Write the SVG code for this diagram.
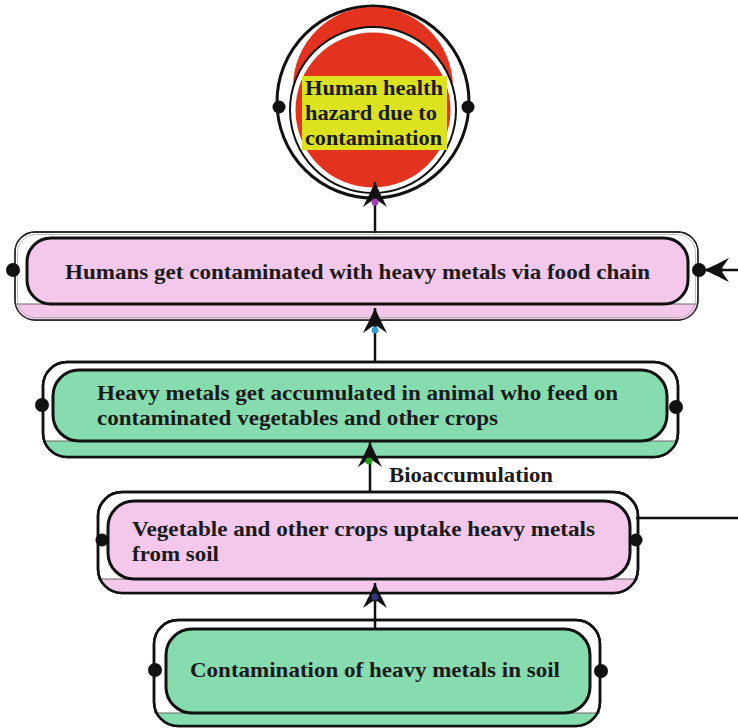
<svg xmlns="http://www.w3.org/2000/svg" width="738" height="728" viewBox="0 0 738 728">
<style>
.t{font-family:"Liberation Serif","Times New Roman",serif;font-weight:bold;font-size:22px;fill:#1a1a1a}
.outer{fill:#fff;stroke:#111;stroke-width:2.5}
.outerThin{fill:#fff;stroke:#222;stroke-width:1.3}
.inner{stroke:#111;stroke-width:3}
.pink{fill:#f3c8eb}
.green{fill:#87dcaf}
.dot{fill:#111}
.sl{stroke:#666;stroke-width:1;fill:none}
.con{stroke:#111;stroke-width:2.5;fill:none}
</style>
<defs>
<marker id="ah" markerUnits="userSpaceOnUse" viewBox="0 0 26 24" refX="25" refY="12" markerWidth="26" markerHeight="24" orient="auto">
<path d="M25,12 C18,9 12,6 0,0 L7,10 L5,12 L7,14 L0,24 C12,18 18,15 25,12 Z" fill="#111"/>
</marker>
<clipPath id="c2"><rect x="15" y="232" width="683" height="88" rx="20"/></clipPath>
<clipPath id="c3"><rect x="43" y="362" width="635" height="95" rx="24"/></clipPath>
<clipPath id="c4"><rect x="98" y="492" width="540" height="101" rx="24"/></clipPath>
<clipPath id="c5"><rect x="154" y="620" width="446" height="106" rx="24"/></clipPath>
</defs>

<g id="node-hazard">
<circle cx="373" cy="102" r="96" fill="#fff" stroke="#111" stroke-width="3"/>
<circle cx="373" cy="87" r="80" fill="#e3321e"/>
<circle cx="373" cy="110" r="83" fill="#fff" stroke="#111" stroke-width="2"/>
<circle cx="373" cy="110" r="77.5" fill="#e3321e"/>
<rect x="302" y="76" width="145" height="74" fill="#dce21e"/>
<text class="t" x="305" y="95" textLength="138" lengthAdjust="spacingAndGlyphs">Human health</text>
<text class="t" x="305" y="120" textLength="132" lengthAdjust="spacingAndGlyphs">hazard due to</text>
<text class="t" x="305" y="145" textLength="137" lengthAdjust="spacingAndGlyphs">contamination</text>
<circle class="dot" cx="279" cy="107" r="6.5"/>
<circle class="dot" cx="468" cy="107" r="6.5"/>
</g>

<g id="node-humans">
<rect class="outerThin" x="15" y="232" width="683" height="88" rx="20"/>
<rect class="pink" x="15" y="304" width="683" height="16" clip-path="url(#c2)"/>
<line class="sl" x1="15" y1="304" x2="698" y2="304"/>
<rect x="15" y="232" width="683" height="88" rx="20" fill="none" stroke="#222" stroke-width="1.3"/>
<rect x="17.5" y="234.5" width="678" height="83" rx="18" fill="none" stroke="#aaa" stroke-width="0.8"/>
<rect class="inner pink" x="27" y="238" width="661" height="66" rx="24"/>
<text class="t" x="65" y="279" textLength="585" lengthAdjust="spacingAndGlyphs">Humans get contaminated with heavy metals via food chain</text>
<circle class="dot" cx="13" cy="270" r="7"/>
<circle class="dot" cx="699" cy="270" r="7"/>
</g>

<g id="node-animal">
<rect class="outer" x="43" y="362" width="635" height="95" rx="24"/>
<rect class="green" x="43" y="441" width="635" height="16" clip-path="url(#c3)"/>
<line class="sl" x1="43" y1="441" x2="678" y2="441"/>
<rect x="43" y="362" width="635" height="95" rx="24" fill="none" stroke="#111" stroke-width="2.5"/>
<rect class="inner green" x="53" y="370" width="614" height="71" rx="26"/>
<text class="t" x="97" y="400" textLength="521" lengthAdjust="spacingAndGlyphs">Heavy metals get accumulated in animal who feed on</text>
<text class="t" x="97" y="425" textLength="401" lengthAdjust="spacingAndGlyphs">contaminated vegetables and other crops</text>
<circle class="dot" cx="42" cy="405" r="7"/>
<circle class="dot" cx="676" cy="407" r="7"/>
</g>

<g id="node-crops">
<rect class="outer" x="98" y="492" width="540" height="101" rx="24"/>
<rect class="pink" x="98" y="579" width="540" height="14" clip-path="url(#c4)"/>
<line class="sl" x1="98" y1="579" x2="638" y2="579"/>
<rect x="98" y="492" width="540" height="101" rx="24" fill="none" stroke="#111" stroke-width="2.5"/>
<rect class="inner pink" x="108" y="501" width="522" height="78" rx="26"/>
<text class="t" x="132" y="536" textLength="463" lengthAdjust="spacingAndGlyphs">Vegetable and other crops uptake heavy metals</text>
<text class="t" x="132" y="561" textLength="87" lengthAdjust="spacingAndGlyphs">from soil</text>
<circle class="dot" cx="102" cy="540" r="6.5"/>
<circle class="dot" cx="636" cy="540" r="6.5"/>
</g>

<g id="node-soil">
<rect class="outer" x="154" y="620" width="446" height="106" rx="24"/>
<rect class="green" x="154" y="713" width="446" height="13" clip-path="url(#c5)"/>
<line class="sl" x1="154" y1="713" x2="600" y2="713"/>
<rect x="154" y="620" width="446" height="106" rx="24" fill="none" stroke="#111" stroke-width="2.5"/>
<rect class="inner green" x="166" y="629" width="424" height="84" rx="26"/>
<text class="t" x="190" y="677" textLength="370" lengthAdjust="spacingAndGlyphs">Contamination of heavy metals in soil</text>
<circle class="dot" cx="155" cy="670" r="7"/>
<circle class="dot" cx="601" cy="671" r="7"/>
</g>

<g id="connectors">
<path class="con" d="M375,628 L375,583" marker-end="url(#ah)"/>
<circle cx="375" cy="597" r="3.5" fill="#35357e"/>
<path class="con" d="M370,493 L370,442" marker-end="url(#ah)"/>
<circle cx="369" cy="461" r="3.5" fill="#2a9a20"/>
<text class="t" x="389" y="482" textLength="164" lengthAdjust="spacingAndGlyphs">Bioaccumulation</text>
<path class="con" d="M375,362 L375,308" marker-end="url(#ah)"/>
<circle cx="375" cy="330" r="3.5" fill="#3a9ad0"/>
<path class="con" d="M375,233 L375,182" marker-end="url(#ah)"/>
<circle cx="375" cy="202" r="3.5" fill="#a040b0"/>
<path class="con" d="M738,270 L704,270" marker-end="url(#ah)"/>
<path class="con" d="M738,518 L636,518"/>
</g>
</svg>
